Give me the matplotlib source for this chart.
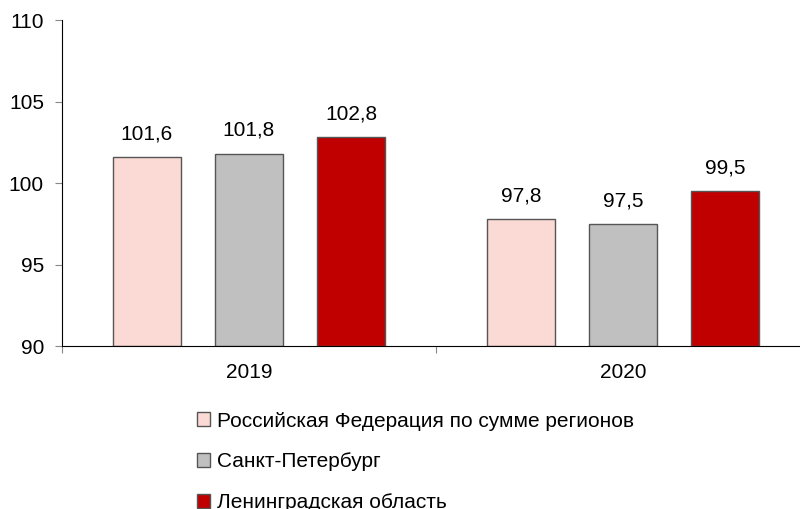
import numpy as np
import matplotlib.pyplot as plt
from matplotlib.patches import Patch

plt.rcParams['font.family'] = ['Liberation Sans', 'DejaVu Sans']

years = ['2019', '2020']
series = ['Российская Федерация по сумме регионов', 'Санкт-Петербург', 'Ленинградская область']
values = [[101.6, 97.8],
          [101.8, 97.5],
          [102.8, 99.5]]
labels = [['101,6', '97,8'],
          ['101,8', '97,5'],
          ['102,8', '99,5']]
colors = ['#fbd9d4', '#c0c0c0', '#c00000']

fig = plt.figure(figsize=(8, 5.09), dpi=100)
ax = fig.add_axes([0.0775, 0.32, 0.935, 0.6405])

x = np.arange(len(years)) + 0.5
offsets = [-0.273, 0.0, 0.273]
width = 0.18
for i in range(3):
    xs = x + offsets[i]
    ax.bar(xs, np.array(values[i]) - 90, width, bottom=90,
           color=colors[i], edgecolor='#555555', linewidth=1)
    for xi, v, t in zip(xs, values[i], labels[i]):
        ax.text(xi, v + 0.85, t, ha='center', va='bottom', fontsize=15)

ax.set_ylim(90, 110)
ax.set_xlim(0, 2)
ax.set_yticks([90, 95, 100, 105, 110])
ax.set_xticks([0, 1, 2])
ax.set_xticklabels([])
ax.set_xticks(x, minor=True)
ax.set_xticklabels(years, minor=True)
ax.tick_params(axis='x', which='minor', length=0, labelsize=15, pad=12)
ax.tick_params(axis='x', which='major', length=5, color='#888888', direction='out')
ax.tick_params(axis='y', length=5, color='#888888', labelsize=15, pad=8)
for s in ['top', 'right']:
    ax.spines[s].set_visible(False)
ax.spines['left'].set_color('black')
ax.spines['bottom'].set_color('black')

handles = [Patch(facecolor=c, edgecolor='#555555') for c in colors]
fig.legend(handles, series, loc='upper left', bbox_to_anchor=(0.233, 0.212),
           frameon=False, fontsize=15, handlelength=0.65, handleheight=0.65,
           handletextpad=0.3, labelspacing=1.05, borderpad=0)

fig.savefig('out.png', dpi=100)
